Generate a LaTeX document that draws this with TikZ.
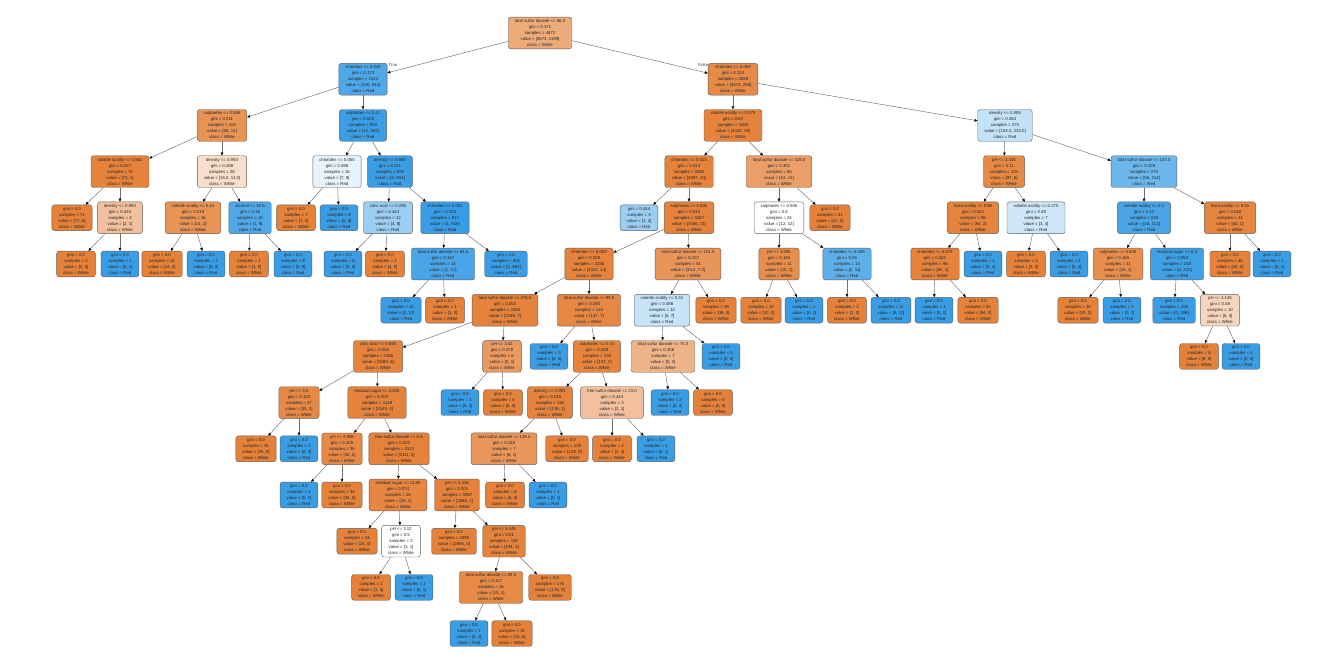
\documentclass[tikz,border=0pt]{standalone}
\usepackage{fontspec}
\newfontfamily\lsans{Liberation Sans}
\usetikzlibrary{arrows.meta}
\definecolor{W}{RGB}{229,129,57}
\definecolor{R}{RGB}{57,157,229}
\definecolor{bordercol}{RGB}{95,95,95}
\definecolor{edgecol}{RGB}{110,110,110}
\newcommand\LeafT[3]{gini = 0.0\\samples = #1\\value = [#2]\\class = #3}
\newcommand\IntT[5]{#1\\gini = #2\\samples = #3\\value = [#4]\\class = #5}
\tikzset{
  dt/.style={draw=bordercol, line width=0.4pt, rounded corners=2.5pt, align=center,
    font=\lsans\fontsize{4.3}{6}\selectfont, inner xsep=6.5pt, inner ysep=2.3pt, text=black!85},
  wl/.style={dt, fill=W},
  rl/.style={dt, fill=R},
  ed/.style={draw=edgecol, line width=0.45pt, -{Triangle[length=3pt,width=2.6pt,color=black]}},
  lbl/.style={font=\lsans\fontsize{4.3}{6}\selectfont, text=black!70, inner sep=0pt},
}
\begin{document}
\begin{tikzpicture}[x=1pt,y=-1pt]
\useasboundingbox[fill=white] (0,0) rectangle (1332,671);
% level 0-1
\node[dt,fill=W!67] (n0) at (540,33) {\IntT{total sulfur dioxide <= 66.5}{0.371}{4872}{3673, 1199}{White}};
\node[dt,fill=R!89] (n1) at (363,79.2) {\IntT{chlorides <= 0.046}{0.173}{1044}{100, 944}{Red}};
\node[dt,fill=W!93] (n2) at (733,79.2) {\IntT{chlorides <= 0.069}{0.124}{3828}{3573, 255}{White}};
\node[lbl] (tl) at (393,65) {True};
\node[lbl] (fl) at (703,65) {False};
% left subtree
\node[dt,fill=W!86] (a) at (222,125.4) {\IntT{sulphates <= 0.555}{0.211}{100}{88, 12}{White}};
\node[dt,fill=R!99] (b) at (363,125.4) {\IntT{sulphates <= 0.41}{0.025}{944}{12, 932}{Red}};
\node[dt,fill=W!99] (aa) at (120,171.6) {\IntT{volatile acidity <= 0.662}{0.027}{74}{73, 1}{White}};
\node[dt,fill=W!27] (ab) at (222,171.6) {\IntT{density <= 0.993}{0.488}{26}{15.0, 11.0}{White}};
\node[wl] (aaa) at (72,217.8) {\LeafT{71}{71, 0}{White}};
\node[dt,fill=W!50] (aab) at (120,217.8) {\IntT{density <= 0.994}{0.444}{3}{2, 1}{White}};
\node[wl] (aaba) at (76,264) {\LeafT{2}{2, 0}{White}};
\node[rl] (aabb) at (120,264) {\LeafT{1}{0, 1}{Red}};
\node[dt,fill=W!86] (aba) at (193,217.8) {\IntT{volatile acidity <= 0.44}{0.219}{16}{14, 2}{White}};
\node[dt,fill=R!89] (abb) at (250,217.8) {\IntT{alcohol <= 10.6}{0.18}{10}{1, 9}{Red}};
\node[wl] (abaa) at (162,264) {\LeafT{14}{14, 0}{White}};
\node[rl] (abab) at (206,264) {\LeafT{2}{0, 2}{Red}};
\node[wl] (abba) at (249,264) {\LeafT{1}{1, 0}{White}};
\node[rl] (abbb) at (293,264) {\LeafT{9}{0, 9}{Red}};
\node[dt,fill=R!12] (ba) at (337,171.6) {\IntT{chlorides <= 0.055}{0.498}{15}{7, 8}{Red}};
\node[dt,fill=R!99] (bb) at (390,171.6) {\IntT{density <= 0.990}{0.011}{929}{5, 924}{Red}};
\node[wl] (baa) at (296,217.8) {\LeafT{7}{7, 0}{White}};
\node[rl] (bab) at (339,217.8) {\LeafT{8}{0, 8}{Red}};
\node[dt,fill=R!50] (bba) at (388,217.8) {\IntT{citric acid <= 0.295}{0.444}{12}{4, 8}{Red}};
\node[dt,fill=R] (bbb) at (445,217.8) {\IntT{chlorides <= 0.051}{0.002}{917}{1, 916}{Red}};
\node[rl] (bbaa) at (343,264) {\LeafT{8}{0, 8}{Red}};
\node[wl] (bbab) at (385,264) {\LeafT{4}{4, 0}{White}};
\node[dt,fill=R!92] (bbba) at (443,264) {\IntT{total sulfur dioxide <= 64.5}{0.142}{13}{1, 12}{Red}};
\node[rl] (bbbb) at (506,264) {\LeafT{904}{0, 904}{Red}};
\node[rl] (bbbaa) at (401,310.2) {\LeafT{12}{0, 12}{Red}};
\node[wl] (bbbab) at (445,310.2) {\LeafT{1}{1, 0}{White}};
% right subtree c
\node[dt,fill=W!99] (c) at (733,125.4) {\IntT{volatile acidity <= 0.575}{0.02}{3455}{3420, 35}{White}};
\node[dt,fill=R!30] (d) at (1005,125.4) {\IntT{density <= 0.995}{0.484}{373}{153.0, 220.0}{Red}};
\node[dt,fill=W!99] (ca) at (689,171.6) {\IntT{chlorides <= 0.013}{0.013}{3390}{3367, 23}{White}};
\node[dt,fill=W!77] (cb) at (779,171.6) {\IntT{total sulfur dioxide <= 115.0}{0.301}{65}{53, 12}{White}};
\node[dt,fill=R!50] (caa) at (639,217.8) {gini = 0.444\\samples = 3\\value = [1, 2]\\class = Red};
\node[dt,fill=W!99] (cab) at (689,217.8) {\IntT{sulphates <= 0.605}{0.012}{3387}{3366, 21}{White}};
\node[dt,fill=white] (cba) at (779,217.8) {\IntT{sulphates <= 0.505}{0.5}{24}{12, 12}{White}};
\node[wl] (cbb) at (830,217.8) {\LeafT{41}{41, 0}{White}};
\node[dt,fill=W!90] (cbaa) at (779,264) {\IntT{pH <= 3.585}{0.165}{11}{10, 1}{White}};
\node[dt,fill=R!82] (cbab) at (847,264) {\IntT{chlorides <= 0.036}{0.26}{13}{2, 11}{Red}};
\node[wl] (cbaaa) at (761,310.2) {\LeafT{10}{10, 0}{White}};
\node[rl] (cbaab) at (804,310.2) {\LeafT{1}{0, 1}{Red}};
\node[wl] (cbaba) at (847,310.2) {\LeafT{2}{2, 0}{White}};
\node[rl] (cbabb) at (891,310.2) {\LeafT{11}{0, 11}{Red}};
\node[dt,fill=W!99] (caba) at (589,264) {\IntT{chlorides <= 0.059}{0.008}{3336}{3322, 14}{White}};
\node[dt,fill=W!84] (cabb) at (688,264) {\IntT{total sulfur dioxide <= 101.5}{0.237}{51}{44.0, 7.0}{White}};
\node[dt,fill=W!99] (cabaa) at (505,310.2) {\IntT{total sulfur dioxide <= 275.0}{0.004}{3192}{3185, 7}{White}};
\node[dt,fill=W!95] (cabab) at (589,310.2) {\IntT{total sulfur dioxide <= 90.5}{0.092}{144}{137, 7}{White}};
\node[dt,fill=R!29] (cabba) at (662,310.2) {\IntT{volatile acidity <= 0.31}{0.486}{12}{5, 7}{Red}};
\node[wl] (cabbb) at (716,310.2) {\LeafT{39}{39, 0}{White}};
\node[dt,fill=W!99] (g1) at (378,356.4) {\IntT{citric acid <= 0.095}{0.004}{3186}{3180, 6}{White}};
\node[dt,fill=W!80] (g2) at (502,356.4) {\IntT{pH <= 3.02}{0.278}{6}{5, 1}{White}};
\node[rl] (g3) at (549,356.4) {\LeafT{5}{0, 5}{Red}};
\node[dt,fill=W!98] (g4) at (597,356.4) {\IntT{sulphates <= 0.74}{0.028}{139}{137, 2}{White}};
\node[dt,fill=W!60] (g5) at (663,356.4) {\IntT{total sulfur dioxide <= 74.0}{0.408}{7}{5, 2}{White}};
\node[rl] (g6) at (721,356.4) {\LeafT{5}{0, 5}{Red}};
\node[dt,fill=W!94] (h1) at (299,402.6) {\IntT{pH <= 3.5}{0.102}{37}{35, 2}{White}};
\node[dt,fill=W!99] (h2) at (377,402.6) {\IntT{residual sugar <= 0.925}{0.003}{3149}{3145, 4}{White}};
\node[rl] (h3) at (460,402.6) {\LeafT{1}{0, 1}{Red}};
\node[wl] (h4) at (503,402.6) {\LeafT{5}{5, 0}{White}};
\node[dt,fill=W!99] (h5) at (550,402.6) {\IntT{density <= 0.991}{0.015}{136}{135, 1}{White}};
\node[dt,fill=W!50] (h6) at (612,402.6) {\IntT{free sulfur dioxide <= 23.0}{0.444}{3}{2, 1}{White}};
\node[rl] (h7) at (670,402.6) {\LeafT{2}{0, 2}{Red}};
\node[wl] (h8) at (713,402.6) {\LeafT{5}{5, 0}{White}};
\node[wl] (i1) at (256,448.8) {\LeafT{35}{35, 0}{White}};
\node[rl] (i2) at (299,448.8) {\LeafT{2}{0, 2}{Red}};
\node[dt,fill=W!94] (i3) at (342,448.8) {\IntT{pH <= 2.965}{0.105}{36}{34, 2}{White}};
\node[dt,fill=W] (i4) at (399,448.8) {\IntT{free sulfur dioxide <= 6.5}{0.001}{3113}{3111, 2}{White}};
\node[dt,fill=W!83] (i5) at (504,448.8) {\IntT{total sulfur dioxide <= 149.0}{0.245}{7}{6, 1}{White}};
\node[wl] (i6) at (567,448.8) {\LeafT{129}{129, 0}{White}};
\node[wl] (i7) at (612,448.8) {\LeafT{2}{2, 0}{White}};
\node[rl] (i8) at (656,448.8) {\LeafT{1}{0, 1}{Red}};
\node[rl] (j1) at (299,495) {\LeafT{2}{0, 2}{Red}};
\node[wl] (j2) at (342,495) {\LeafT{34}{34, 0}{White}};
\node[dt,fill=W!96] (j3) at (398,495) {\IntT{residual sugar <= 11.85}{0.074}{26}{25, 1}{White}};
\node[dt,fill=W] (j4) at (457,495) {\IntT{pH <= 3.435}{0.001}{3087}{3086, 1}{White}};
\node[wl] (j5) at (505,495) {\LeafT{6}{6, 0}{White}};
\node[rl] (j6) at (548,495) {\LeafT{1}{0, 1}{Red}};
\node[wl] (k1) at (357,541.2) {\LeafT{24}{24, 0}{White}};
\node[dt,fill=white] (k2) at (401,541.2) {\IntT{pH <= 3.12}{0.5}{2}{1, 1}{White}};
\node[wl] (k3) at (454,541.2) {\LeafT{2895}{2895, 0}{White}};
\node[dt,fill=W!99] (k4) at (504,541.2) {\IntT{pH <= 3.445}{0.01}{192}{191, 1}{White}};
\node[wl] (l1) at (371,587.4) {\LeafT{1}{1, 0}{White}};
\node[rl] (l2) at (414,587.4) {\LeafT{1}{0, 1}{Red}};
\node[dt,fill=W!93] (l3) at (491,587.4) {\IntT{total sulfur dioxide <= 92.0}{0.117}{16}{15, 1}{White}};
\node[wl] (l4) at (550,587.4) {\LeafT{176}{176, 0}{White}};
\node[rl] (m1) at (469,633.6) {\LeafT{1}{0, 1}{Red}};
\node[wl] (m2) at (512,633.6) {\LeafT{15}{15, 0}{White}};
% right subtree d
\node[dt,fill=W!94] (da) at (1004,171.6) {\IntT{pH <= 3.335}{0.11}{103}{97, 6}{White}};
\node[dt,fill=R!74] (db) at (1144,171.6) {\IntT{total sulfur dioxide <= 153.5}{0.329}{270}{56, 214}{Red}};
\node[dt,fill=W!98] (daa) at (973,217.8) {\IntT{fixed acidity <= 9.85}{0.041}{96}{94, 2}{White}};
\node[dt,fill=R!25] (dab) at (1036,217.8) {\IntT{volatile acidity <= 0.275}{0.49}{7}{3, 4}{Red}};
\node[dt,fill=W!99] (daaa) at (935,264) {\IntT{chlorides <= 0.071}{0.021}{95}{94, 1}{White}};
\node[rl] (daab) at (983,264) {\LeafT{1}{0, 1}{Red}};
\node[rl] (daaaa) at (934,310.2) {\LeafT{1}{0, 1}{Red}};
\node[wl] (daaab) at (978,310.2) {\LeafT{94}{94, 0}{White}};
\node[wl] (daba) at (1026,264) {\LeafT{3}{3, 0}{White}};
\node[rl] (dabb) at (1069,264) {\LeafT{4}{0, 4}{Red}};
\node[dt,fill=R!92] (dba) at (1144,217.8) {\IntT{volatile acidity <= 0.3}{0.13}{229}{16, 213}{Red}};
\node[dt,fill=W!97] (dbb) at (1230,217.8) {\IntT{fixed acidity <= 9.15}{0.048}{41}{40, 1}{White}};
\node[dt,fill=W!90] (dbaa) at (1118,264) {\IntT{sulphates <= 0.645}{0.165}{11}{10, 1}{White}};
\node[dt,fill=R!97] (dbab) at (1177,264) {\IntT{residual sugar <= 8.2}{0.054}{218}{6, 212}{Red}};
\node[wl] (dbaaa) at (1078,310.2) {\LeafT{10}{10, 0}{White}};
\node[rl] (dbaab) at (1122,310.2) {\LeafT{1}{0, 1}{Red}};
\node[rl] (dbaba) at (1174,310.2) {\LeafT{208}{0, 208}{Red}};
\node[dt,fill=W!33] (dbabb) at (1220,310.2) {\IntT{pH <= 3.145}{0.48}{10}{6, 4}{White}};
\node[wl] (dbabba) at (1199,356.4) {\LeafT{6}{6, 0}{White}};
\node[rl] (dbabbb) at (1241,356.4) {\LeafT{4}{0, 4}{Red}};
\node[wl] (dbba) at (1230,264) {\LeafT{40}{40, 0}{White}};
\node[rl] (dbbb) at (1272,264) {\LeafT{1}{0, 1}{Red}};
% edges
\foreach \p/\q in {n0/n1,n0/n2,n1/a,n1/b,a/aa,a/ab,aa/aaa,aa/aab,aab/aaba,aab/aabb,
  ab/aba,ab/abb,aba/abaa,aba/abab,abb/abba,abb/abbb,b/ba,b/bb,ba/baa,ba/bab,
  bb/bba,bb/bbb,bba/bbaa,bba/bbab,bbb/bbba,bbb/bbbb,bbba/bbbaa,bbba/bbbab,
  n2/c,n2/d,c/ca,c/cb,ca/caa,ca/cab,cb/cba,cb/cbb,cba/cbaa,cba/cbab,
  cbaa/cbaaa,cbaa/cbaab,cbab/cbaba,cbab/cbabb,cab/caba,cab/cabb,
  caba/cabaa,caba/cabab,cabb/cabba,cabb/cabbb,cabaa/g1,cabaa/g2,cabab/g3,cabab/g4,
  cabba/g5,cabba/g6,g1/h1,g1/h2,g2/h3,g2/h4,g4/h5,g4/h6,g5/h7,g5/h8,
  h1/i1,h1/i2,h2/i3,h2/i4,h5/i5,h5/i6,h6/i7,h6/i8,i3/j1,i3/j2,i4/j3,i4/j4,
  i5/j5,i5/j6,j3/k1,j3/k2,j4/k3,j4/k4,k2/l1,k2/l2,k4/l3,k4/l4,l3/m1,l3/m2,
  d/da,d/db,da/daa,da/dab,daa/daaa,daa/daab,daaa/daaaa,daaa/daaab,dab/daba,dab/dabb,
  db/dba,db/dbb,dba/dbaa,dba/dbab,dbaa/dbaaa,dbaa/dbaab,dbab/dbaba,dbab/dbabb,
  dbabb/dbabba,dbabb/dbabbb,dbb/dbba,dbb/dbbb}
  \draw[ed] (\p) -- (\q);
\end{tikzpicture}
\end{document}
